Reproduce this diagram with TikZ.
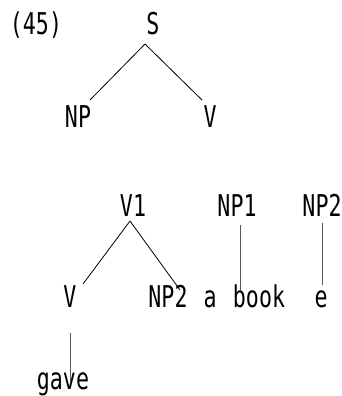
\documentclass[tikz,border=0pt]{standalone}
\usepackage{fontspec}
\newfontfamily\treefont[FakeStretch=0.72]{DejaVu Sans Mono}
\begin{document}
\begin{tikzpicture}[x=1pt,y=-1pt,
  lbl/.style={anchor=base,inner sep=0pt,font=\treefont\fontsize{30}{33}\selectfont},
  branch/.style={line width=0.8pt,black},
  stem/.style={line width=1pt,black!65}]
\useasboundingbox (0,0) rectangle (342,396);
% example number
\node[lbl] (num) at (36,35) {(45)};
% upper tree
\node[lbl] (s) at (153,35) {S};
\node[lbl] (np) at (78,127) {NP};
\node[lbl] (v) at (210,127) {V};
\draw[branch] (145,44) -- (90,100);
\draw[branch] (145,44) -- (202,100);
% lower tree
\node[lbl] (v1) at (133,216) {V1};
\node[lbl] (np1) at (237,216) {NP1};
\node[lbl] (np2t) at (322,216) {NP2};
\node[lbl] (vl) at (70,307) {V};
\node[lbl] (np2) at (168,307) {NP2};
\node[lbl] (a) at (210,307) {a};
\node[lbl] (book) at (259,307) {book};
\node[lbl] (e) at (321,307) {e};
\node[lbl] (gave) at (63,389) {gave};
\draw[branch] (130,221) -- (83,284);
\draw[branch] (130,221) -- (180,290);
\draw[stem] (240,225) -- (240,290);
\draw[stem] (322,223) -- (322,285);
\draw[stem] (70,333) -- (70,382);
\end{tikzpicture}
\end{document}
